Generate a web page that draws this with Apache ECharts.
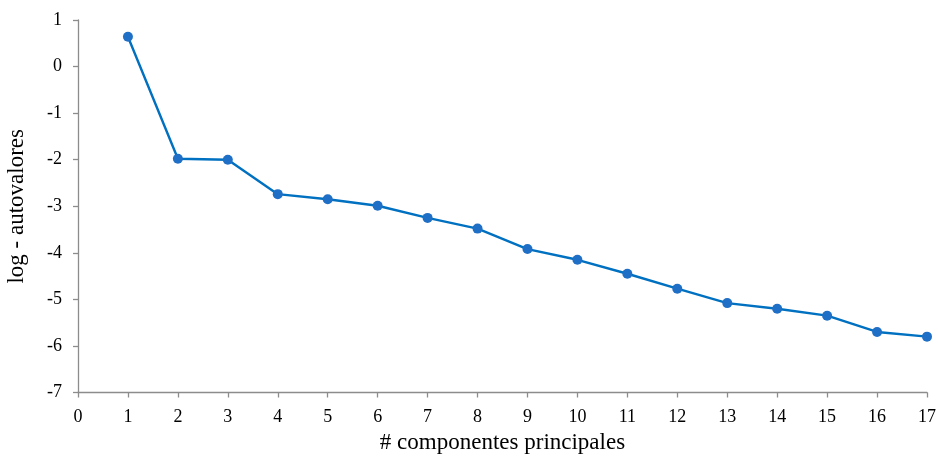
<!DOCTYPE html>
<html><head><meta charset="utf-8">
<script src="https://cdn.jsdelivr.net/npm/echarts@6/dist/echarts.min.js"></script>
<style>html,body{margin:0;padding:0;background:#fff}#c{width:938px;height:457px}</style>
</head><body><div id="c"></div>
<script>
const components = [1,2,3,4,5,6,7,8,9,10,11,12,13,14,15,16,17];
const logEigen = [0.64,-1.98,-2.00,-2.74,-2.85,-2.99,-3.25,-3.48,-3.92,-4.15,-4.45,-4.77,-5.08,-5.20,-5.35,-5.70,-5.80];
const xTitle = '# componentes principales';
const yTitle = 'log - autovalores';

const chart = echarts.init(document.getElementById('c'), null, {renderer:'canvas'});
const axisCol = '#8c8c8c';
const font = 'Liberation Serif';
chart.setOption({
  animation:false,
  grid:{left:78,right:11,top:20,bottom:64.5,containLabel:false,outerBoundsMode:'none'},
  xAxis:{type:'value',min:0,max:17,interval:1,
    name:xTitle,nameLocation:'middle',nameGap:37,
    nameTextStyle:{fontFamily:font,fontSize:23,color:'#000'},
    axisLine:{show:true,onZero:false,lineStyle:{color:axisCol,width:1.3}},
    axisTick:{show:true,length:5,lineStyle:{color:axisCol,width:1.3}},
    axisLabel:{fontFamily:font,fontSize:18,color:'#000',margin:16},
    splitLine:{show:false}},
  yAxis:{type:'value',min:-7,max:1,interval:1,
    name:yTitle,nameLocation:'middle',nameGap:50,
    nameTextStyle:{fontFamily:font,fontSize:23,color:'#000'},
    axisLine:{show:true,onZero:false,lineStyle:{color:axisCol,width:1.3}},
    axisTick:{show:true,length:5,lineStyle:{color:axisCol,width:1.3}},
    axisLabel:{fontFamily:font,fontSize:18,color:'#000',margin:16},
    splitLine:{show:false}},
  series:[{type:'line',data:components.map((c,i)=>[c,logEigen[i]]),
    symbol:'circle',symbolSize:10,
    lineStyle:{color:'#0070C0',width:2.4},
    itemStyle:{color:'#1F6FC6'}}]
});
</script></body></html>
